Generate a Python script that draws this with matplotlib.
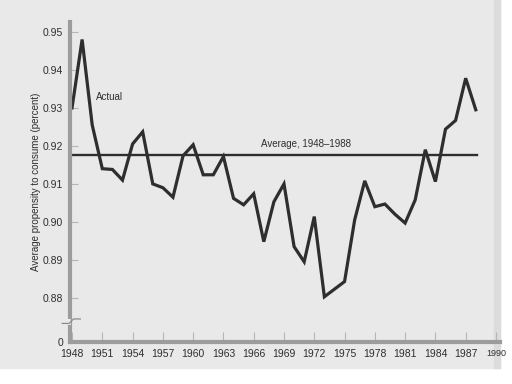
import matplotlib
matplotlib.use("Agg")
import matplotlib.pyplot as plt
import numpy as np

plt.rcParams['font.family'] = ['Liberation Sans', 'DejaVu Sans']

# data
years = list(range(1948, 1989))
apc = [0.930, 0.948, 0.9255, 0.914, 0.9138, 0.911, 0.9205, 0.9237, 0.910, 0.909,
       0.9065, 0.9174, 0.9203, 0.9124, 0.9124, 0.9172, 0.9062, 0.9045, 0.9074, 0.8948,
       0.9053, 0.910, 0.8935, 0.8895, 0.9014, 0.8803, 0.8823, 0.8843, 0.9005, 0.9108,
       0.904, 0.9047, 0.902, 0.8997, 0.9058, 0.919, 0.9106, 0.9244, 0.9267, 0.9378,
       0.9295]
average = 0.9176
avg_span = [1948, 1988.1]

xticks = list(range(1948, 1991, 3))
yticks = [0.8684, 0.88, 0.89, 0.90, 0.91, 0.92, 0.93, 0.94, 0.95]
ylabels = ['0', '0.88', '0.89', '0.90', '0.91', '0.92', '0.93', '0.94', '0.95']

paper = '#e9e9e9'
bar = '#9c9c9c'
ink = '#2e2e2e'

fig = plt.figure(figsize=(5.12, 3.84), dpi=100)
fig.patch.set_facecolor('white')
# scanned page area
fig.patches.append(plt.Rectangle((0, 16 / 384), 500 / 512, 1, transform=fig.transFigure,
                                 color=paper, zorder=-2))
fig.patches.append(plt.Rectangle((494 / 512, 16 / 384), 6 / 512, 1, transform=fig.transFigure,
                                 color='#dcdcdc', zorder=-1))

ax = fig.add_axes([70 / 512, 42 / 384, 430 / 512, 320 / 384])
ax.patch.set_visible(False)

ax.plot(years, apc, color=ink, lw=2.3, solid_joinstyle='miter')
ax.plot(avg_span, [average, average], color=ink, lw=1.7)

ax.text(1950.4, 0.9329, 'Actual', fontsize=7, color=ink, va='center')
ax.text(1966.7, 0.9204, 'Average, 1948\u20131988', fontsize=7, color=ink, va='center')

ax.set_xlim(1947.8, 1990.4)
ax.set_ylim(0.8684, 0.9526)
ax.set_xticks(xticks)
ax.set_xticklabels([str(y) for y in xticks])
ax.set_yticks(yticks)
ax.set_yticklabels(ylabels)
ax.tick_params(axis='both', direction='in', colors='#b5b5b5', labelcolor=ink,
               labelsize=7.5, width=0.8)
ax.tick_params(axis='x', length=7, pad=5)
ax.tick_params(axis='y', length=6, pad=5)
ax.yaxis.get_major_ticks()[0].tick1line.set_visible(False)
ax.xaxis.get_majorticklabels()[-1].set_fontsize(6.5)

for side in ['top', 'right']:
    ax.spines[side].set_visible(False)
for side in ['left', 'bottom']:
    ax.spines[side].set_color(bar)
    ax.spines[side].set_linewidth(3)

ax.set_ylabel('Average propensity to consume (percent)', fontsize=7, color=ink, labelpad=1)

# axis break
ax.plot([-0.005, -0.005], [0.052, 0.072], color=paper, lw=4, transform=ax.transAxes,
        clip_on=False, solid_capstyle='butt', zorder=5)
ax.plot([-0.018, -0.002, 0.008, 0.024], [0.058, 0.058, 0.072, 0.072], color='#8a8a8a',
        lw=0.9, transform=ax.transAxes, clip_on=False, zorder=6)

fig.savefig('out.png', dpi=100, facecolor='white')
